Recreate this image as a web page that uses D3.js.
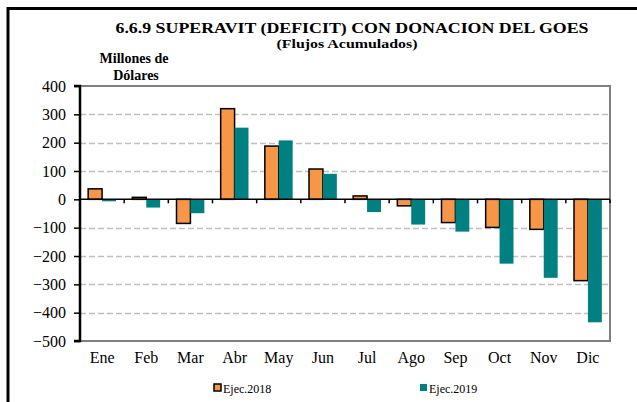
<!DOCTYPE html>
<html>
<head>
<meta charset="utf-8">
<script src="https://cdn.jsdelivr.net/npm/d3@7"></script>
<style>
  html, body { margin: 0; padding: 0; background: #fff; }
  svg { display: block; }
  svg text { font-family: "Liberation Serif", "Times New Roman", serif; fill: #000; }
</style>
</head>
<body>
<svg id="chart" width="637" height="402"></svg>
<script>
// Monthly accumulated surplus (deficit) with GOES donations, millions of dollars
const months = ["Ene", "Feb", "Mar", "Abr", "May", "Jun", "Jul", "Ago", "Sep", "Oct", "Nov", "Dic"];
const ejec2018 = [37, 7, -85, 320, 188, 107, 12, -23, -82, -99, -106, -287];
const ejec2019 = [-7, -29, -49, 253, 208, 90, -45, -89, -114, -227, -277, -434];
const seriesNames = ["Ejec.2018", "Ejec.2019"];
const seriesColors = ["#F79646", "#008080"];
const yTicks = [400, 300, 200, 100, 0, -100, -200, -300, -400, -500];

const FONT = "'Liberation Serif', 'Times New Roman', serif";
const svg = d3.select("#chart");

const plot = { left: 80, right: 610, top: 86, bottom: 341 };

// Outer frame (top and left edges)
svg.append("line").attr("x1", 8).attr("x2", 637).attr("y1", 8.5).attr("y2", 8.5)
  .attr("stroke", "#000").attr("stroke-width", 3);
svg.append("line").attr("x1", 8).attr("x2", 8).attr("y1", 7).attr("y2", 402)
  .attr("stroke", "#000").attr("stroke-width", 3);

const y = d3.scaleLinear().domain([-500, 400]).range([plot.bottom, plot.top]);
const x0 = d3.scaleBand().domain(months).range([plot.left, plot.right])
  .paddingInner(0.37).paddingOuter(0.185);
const x1 = d3.scaleBand().domain(seriesNames).range([0, x0.bandwidth()]).padding(0);
const xCat = d3.scaleBand().domain(months).range([plot.left, plot.right]);

// Gridlines
svg.append("g").selectAll("line")
  .data(yTicks.filter(v => v !== 0 && v !== 400 && v !== -500))
  .join("line")
  .attr("x1", plot.left).attr("x2", plot.right)
  .attr("y1", d => Math.round(y(d)) + 0.5).attr("y2", d => Math.round(y(d)) + 0.5)
  .attr("stroke", "#BFBFBF").attr("stroke-width", 1.5)
  .attr("stroke-dasharray", "6,3");

// Plot border (top, right, bottom)
svg.append("path")
  .attr("d", `M${plot.left},${plot.top}H${plot.right}V${plot.bottom}H${plot.left}`)
  .attr("fill", "none").attr("stroke", "#808080").attr("stroke-width", 2);

// Bars
const rows = months.map((m, i) => ({ month: m, values: [ejec2018[i], ejec2019[i]] }));
const groups = svg.append("g").selectAll("g")
  .data(rows).join("g")
  .attr("transform", d => `translate(${x0(d.month)},0)`);

groups.selectAll("rect")
  .data(d => d.values.map((v, k) => ({ key: seriesNames[k], k, v })))
  .join("rect")
  .attr("x", d => x1(d.key))
  .attr("width", x1.bandwidth())
  .attr("y", d => y(Math.max(0, d.v)))
  .attr("height", d => Math.abs(y(d.v) - y(0)))
  .attr("fill", d => seriesColors[d.k])
  .attr("stroke", d => d.k === 0 ? "#000" : "none")
  .attr("stroke-width", 1.5);

// Zero line with category ticks
svg.append("line")
  .attr("x1", plot.left).attr("x2", plot.right)
  .attr("y1", y(0)).attr("y2", y(0))
  .attr("stroke", "#000").attr("stroke-width", 1.5);
svg.append("g").selectAll("line")
  .data(months.slice(1).concat(["end"]))
  .join("line")
  .attr("x1", (d, i) => i < 11 ? xCat(d) : plot.right)
  .attr("x2", (d, i) => i < 11 ? xCat(d) : plot.right)
  .attr("y1", y(0)).attr("y2", y(0) + 4)
  .attr("stroke", "#000").attr("stroke-width", 1.5);

// Y axis
const yAxis = d3.axisLeft(y).tickValues(yTicks).tickSize(6).tickPadding(8)
  .tickFormat(d3.format("d"));
const gy = svg.append("g").attr("transform", `translate(${plot.left},0)`).call(yAxis)
  .attr("font-family", FONT).attr("font-size", 16);
gy.select(".domain").attr("stroke", "#000").attr("stroke-width", 2.5)
  .attr("d", `M-6,${plot.top}H0V${plot.bottom}H-6`);
gy.selectAll(".tick line").attr("stroke", "#000").attr("stroke-width", 1.5);
gy.selectAll(".tick text").attr("fill", "#000");

// Month labels
svg.append("g").attr("font-family", FONT).selectAll("text")
  .data(months).join("text")
  .attr("x", d => xCat(d) + xCat.bandwidth() / 2)
  .attr("y", 363)
  .attr("text-anchor", "middle")
  .attr("font-size", 16)
  .text(d => d);

// Titles
const titles = svg.append("g").attr("font-family", FONT).attr("font-weight", "bold");
titles.append("text").attr("x", 352).attr("y", 33)
  .attr("text-anchor", "middle").attr("font-size", 15)
  .attr("textLength", 473).attr("lengthAdjust", "spacingAndGlyphs")
  .text("6.6.9 SUPERAVIT (DEFICIT) CON DONACION DEL GOES");
titles.append("text").attr("x", 347).attr("y", 48)
  .attr("text-anchor", "middle").attr("font-size", 13)
  .attr("textLength", 141).attr("lengthAdjust", "spacingAndGlyphs")
  .text("(Flujos Acumulados)");
titles.append("text").attr("x", 134).attr("y", 63)
  .attr("text-anchor", "middle").attr("font-size", 14)
  .text("Millones de");
titles.append("text").attr("x", 136).attr("y", 80)
  .attr("text-anchor", "middle").attr("font-size", 14)
  .text("Dólares");

// Legend
const legendX = [214, 420];
const legend = svg.append("g").attr("font-family", FONT).selectAll("g")
  .data(seriesNames).join("g")
  .attr("transform", (d, i) => `translate(${legendX[i]},384)`);
legend.append("rect")
  .attr("width", 7).attr("height", 7)
  .attr("fill", (d, i) => seriesColors[i])
  .attr("stroke", (d, i) => i === 0 ? "#000" : "none")
  .attr("stroke-width", 1.5);
legend.append("text")
  .attr("x", 9).attr("y", 9)
  .attr("font-size", 12)
  .text(d => d);
</script>
</body>
</html>
